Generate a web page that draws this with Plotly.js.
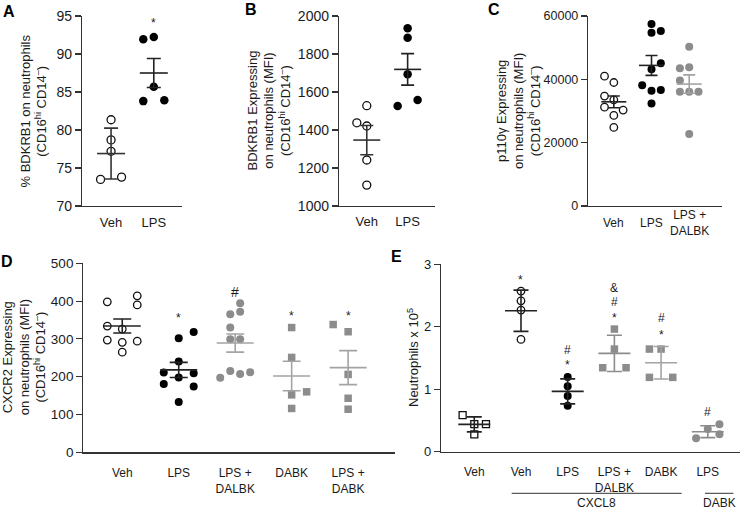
<!DOCTYPE html>
<html><head><meta charset="utf-8">
<script src="https://cdn.plot.ly/plotly-3.0.1.min.js"></script>
<style>html,body{margin:0;padding:0;background:#fff}</style>
</head><body><div id="chart" style="width:741px;height:510px"></div>
<script>
// ---------- DATA ----------
// Panel A: % BDKRB1 on neutrophils
const A_categories = ['Veh', 'LPS'];
const A_veh = [81.35, 78.7, 77.2, 73.5, 73.8];
const A_lps = [91.95, 92.25, 85.7, 83.8, 83.9];
const A_vehJitter = [0, 0, 0, -1, 1];
const A_lpsJitter = [-1, 0, 0, -1, 1];
const A_mean = [76.9, 87.5];
const A_err = [3.35, 1.9];
const A_yTicks = [70, 75, 80, 85, 90, 95];

// Panel B: BDKRB1 MFI
const B_categories = ['Veh', 'LPS'];
const B_veh = [1528, 1438, 1421, 1242, 1110];
const B_lps = [1935, 1886, 1693, 1526, 1558];
const B_vehJitter = [0, -1, 0, 0, 0];
const B_lpsJitter = [0, 0, 0, -1, 1];
const B_mean = [1347, 1719];
const B_err = [77, 83];
const B_yTicks = [1000, 1200, 1400, 1600, 1800, 2000];

// Panel C: p110gamma MFI
const C_categories = ['Veh', 'LPS', 'LPS +<br>DALBK'];
const C_veh = [41000, 39000, 34700, 33500, 31200, 30300, 28600, 24800];
const C_lps = [57500, 54700, 55300, 45100, 43200, 38100, 36400, 36600, 32400];
const C_dalbk = [50300, 43500, 43800, 39600, 36100, 36100, 36100, 22700];
const C_vehJitter = [-1, 0, -1, 0, -1, 1, 0, 0];
const C_lpsJitter = [0, 0, 1, 1, 0, -1, 0, 1, 0];
const C_dalbkJitter = [0, -1, 0, -1, -1, 0, 1, 0];
const C_mean = [32900, 44400, 38500];
const C_err = [1850, 3150, 2900];
const C_yTicks = [0, 20000, 40000, 60000];

// Panel D: CXCR2 MFI
const D_categories = ['Veh', 'LPS', 'LPS +<br>DALBK', 'DABK', 'LPS +<br>DABK'];
const D_veh = [398, 414, 390, 334, 326, 297, 291, 294, 265];
const D_lps = [302, 318, 240, 211, 209, 198, 181, 174, 133];
const D_lpsDalbk = [394, 365, 372, 330, 299, 299, 197, 215, 207, 212];
const D_dabk = [330, 251, 160, 152, 116];
const D_lpsDabk = [338, 319, 206, 143, 114];
const D_vehJitter = [-1, 1, 1, -1, 0, -1, 0, 1, 0];
const D_lpsJitter = [0, 1, 0, -1, 1, 0, -1, 1, 0];
const D_lpsDalbkJitter = [0.33, -0.33, 0.33, -0.33, -0.33, 0.33, -1, -0.33, 0.33, 1];
const D_dabkJitter = [0, 0, 1, 0, 0];
const D_lpsDabkJitter = [-1, 0, 0, 0, 0];
const D_mean = [334, 218, 289, 202, 224];
const D_err = [18.5, 20, 24, 39, 45];
const D_yTicks = [0, 100, 200, 300, 400, 500];
const D_sigText = ['', '*', '#', '*', '*'];
const D_sigY = [0, 360.6, 424.9, 367.7, 367.7];

// Panel E: Neutrophils x 10^5
const E_categories = ['Veh', 'Veh', 'LPS', 'LPS +<br>DALBK', 'DABK', 'LPS'];
const E_veh = [0.587, 0.443, 0.443, 0.278];
const E_cxVeh = [2.571, 2.416, 2.267, 1.798];
const E_cxLps = [1.195, 1.046, 0.891, 0.736];
const E_cxLpsDalbk = [1.963, 1.643, 1.344, 1.344];
const E_cxDabk = [1.643, 1.643, 1.19, 1.19];
const E_dabkLps = [0.214, 0.363, 0.438, 0.278];
const E_vehJitter = [-1, 0, 1, 0];
const E_cxVehJitter = [0, 0, 0, 0];
const E_cxLpsJitter = [0, 0, 0, 0];
const E_cxLpsDalbkJitter = [0, 0, -1, 1];
const E_cxDabkJitter = [-1, 0, -1, 1];
const E_dabkLpsJitter = [-1, 0, 1, 1];
const E_mean = [0.438, 2.256, 0.966, 1.574, 1.424, 0.32];
const E_err = [0.12, 0.33, 0.2, 0.29, 0.26, 0.095];
const E_yTicks = [0, 1, 2, 3];
// significance marks: category index, text, y
const E_sigCat = [1, 2, 2, 3, 3, 3, 4, 4, 5];
const E_sigText = ['*', '#', '*', '&', '#', '*', '#', '*', '#'];
const E_sigY = [2.784, 1.627, 1.43, 2.614, 2.40, 2.187, 2.134, 1.91, 0.64];
const E_groupLabels = ['CXCL8', 'DABK'];
const E_groupStart = [0.80, 4.94];
const E_groupEnd = [4.44, 5.55];

// ---------- STYLE ----------
const FONT = '"Liberation Sans", Arial, Helvetica, sans-serif';
const TXT = '#1a1a1a';
const AX = '#333333';
const GRAY = '#8c8c8c';
const LGRAY = '#a3a3a3';
const W = 741, H = 510;
const px = p => p / W;
const py = p => 1 - p / H;

const traces = [];
function points(n, cat, vals, jit, spread, marker) {
  traces.push({
    type: 'scatter', mode: 'markers', xaxis: 'x' + n, yaxis: 'y' + n,
    x: vals.map((v, i) => cat + jit[i] * spread), y: vals,
    marker: marker, hoverinfo: 'skip', showlegend: false, cliponaxis: false
  });
}
function meanBar(n, cat, mean, err, color, len, cap) {
  traces.push({
    type: 'scatter', mode: 'markers', xaxis: 'x' + n, yaxis: 'y' + n,
    x: [cat], y: [mean],
    marker: {symbol: 'line-ew', size: len / 1.4, color: color, line: {color: color, width: 1.6}},
    error_y: {type: 'data', array: [err], visible: true, color: color, thickness: 1.6, width: cap / 2},
    hoverinfo: 'skip', showlegend: false, cliponaxis: false
  });
}
const openC = s => ({symbol: 'circle-open', size: s, color: '#111', line: {width: 1.3, color: '#111'}});
const fillC = (s, c) => ({symbol: 'circle', size: s, color: c, line: {width: 0}});
const openS = s => ({symbol: 'square-open', size: s, color: '#111', line: {width: 1.3, color: '#111'}});
const fillS = (s, c) => ({symbol: 'square', size: s, color: c, line: {width: 0}});

// A
points('', 0, A_veh, A_vehJitter, 0.246, openC(8));
points('', 1, A_lps, A_lpsJitter, 0.246, fillC(8.5, '#000'));
meanBar('', 0, A_mean[0], A_err[0], '#333', 28, 14);
meanBar('', 1, A_mean[1], A_err[1], '#222', 28, 14);
// B
points('2', 0, B_veh, B_vehJitter, 0.244, openC(8));
points('2', 1, B_lps, B_lpsJitter, 0.244, fillC(8.5, '#000'));
meanBar('2', 0, B_mean[0], B_err[0], '#333', 27, 13);
meanBar('2', 1, B_mean[1], B_err[1], '#222', 27, 13);
// C
points('3', 0, C_veh, C_vehJitter, 0.247, openC(7.5));
points('3', 1, C_lps, C_lpsJitter, 0.247, fillC(8, '#000'));
points('3', 2, C_dalbk, C_dalbkJitter, 0.247, fillC(8, GRAY));
meanBar('3', 0, C_mean[0], C_err[0], '#222', 25, 12);
meanBar('3', 1, C_mean[1], C_err[1], '#222', 25, 12);
meanBar('3', 2, C_mean[2], C_err[2], LGRAY, 25, 12);
// D
points('4', 0, D_veh, D_vehJitter, 0.265, openC(7.5));
points('4', 1, D_lps, D_lpsJitter, 0.265, fillC(8, '#000'));
points('4', 2, D_lpsDalbk, D_lpsDalbkJitter, 0.265, fillC(8, GRAY));
points('4', 3, D_dabk, D_dabkJitter, 0.265, fillS(7.5, GRAY));
points('4', 4, D_lpsDabk, D_lpsDabkJitter, 0.265, fillS(7.5, GRAY));
meanBar('4', 0, D_mean[0], D_err[0], '#222', 37, 18);
meanBar('4', 1, D_mean[1], D_err[1], '#222', 37, 18);
meanBar('4', 2, D_mean[2], D_err[2], LGRAY, 37, 18);
meanBar('4', 3, D_mean[3], D_err[3], LGRAY, 37, 18);
meanBar('4', 4, D_mean[4], D_err[4], LGRAY, 37, 18);
// E
points('5', 0, E_veh, E_vehJitter, 0.25, openS(7));
points('5', 1, E_cxVeh, E_cxVehJitter, 0.25, openC(7.5));
points('5', 2, E_cxLps, E_cxLpsJitter, 0.25, fillC(8, '#000'));
points('5', 3, E_cxLpsDalbk, E_cxLpsDalbkJitter, 0.25, fillS(7.5, GRAY));
points('5', 4, E_cxDabk, E_cxDabkJitter, 0.25, fillS(7.5, GRAY));
points('5', 5, E_dabkLps, E_dabkLpsJitter, 0.25, fillC(8, GRAY));
meanBar('5', 0, E_mean[0], E_err[0], '#222', 32, 15);
meanBar('5', 1, E_mean[1], E_err[1], '#222', 32, 15);
meanBar('5', 2, E_mean[2], E_err[2], '#222', 32, 15);
meanBar('5', 3, E_mean[3], E_err[3], GRAY, 32, 15);
meanBar('5', 4, E_mean[4], E_err[4], LGRAY, 32, 15);
meanBar('5', 5, E_mean[5], E_err[5], GRAY, 32, 15);

function xAx(anchor, dom, range, vals, text, fsize, standoff) {
  return {
    anchor: anchor, domain: dom, range: range, showline: true, linecolor: AX, linewidth: 1.2,
    ticks: '', tickvals: vals, ticktext: text, showticklabels: !!text,
    tickfont: {family: FONT, size: fsize, color: TXT}, ticklabelstandoff: standoff,
    showgrid: false, zeroline: false, fixedrange: true
  };
}
function yAx(anchor, dom, range, vals, fsize) {
  return {
    anchor: anchor, domain: dom, range: range, showline: true, linecolor: AX, linewidth: 1.2,
    ticks: 'outside', ticklen: 6, tickwidth: 1.2, tickcolor: AX, tickvals: vals, tickformat: 'd',
    tickfont: {family: FONT, size: fsize, color: TXT},
    showgrid: false, zeroline: false, fixedrange: true
  };
}

const ann = [];
function label(t, x, y) {
  ann.push({text: '<b>' + t + '</b>', xref: 'paper', yref: 'paper', x: px(x), y: py(y),
    xanchor: 'center', yanchor: 'middle', showarrow: false, font: {family: FONT, size: 16, color: '#000'}});
}
function ytitle(t, x, yref, fsize) {
  ann.push({text: t, xref: 'paper', yref: yref, x: px(x), y: 0.5, textangle: -90,
    xanchor: 'center', yanchor: 'middle', showarrow: false, font: {family: FONT, size: fsize, color: TXT}});
}
function sig(n, x, y, t, fsize) {
  const star = t === '*';
  ann.push({text: t, xref: 'x' + n, yref: 'y' + n, x: x, y: y, showarrow: false,
    xanchor: 'center', yanchor: 'middle', yshift: star ? -2.5 : 0,
    font: {family: FONT, size: star ? 12 : fsize, color: TXT}});
}
label('A', 9, 11); label('B', 251, 9); label('C', 494, 9); label('D', 7, 261); label('E', 397, 256);
const sub = '(CD16<sup>hi</sup> CD14<sup>–</sup>)';
ytitle('% BDKRB1 on neutrophils<br>' + sub, 33.5, 'y domain', 13);
ytitle('BDKRB1 Expressing<br>on neutrophils (MFI)<br>' + sub, 268.5, 'y2 domain', 13);
ytitle('p110γ Expressing<br>on neutrophils (MFI)<br>' + sub, 518, 'y3 domain', 13);
ytitle('CXCR2 Expressing<br>on neutrophils (MFI)<br>' + sub, 24.5, 'y4 domain', 13);
ytitle('Neutrophils x 10<sup>5</sup>', 413, 'y5 domain', 13);

sig('', 1, 94.35, '*');
sig('2', 1, 2005, '*');
sig('3', 1, 61050, '*');
D_sigText.forEach((t, i) => { if (t) sig('4', i, D_sigY[i], t, 14); });
E_sigText.forEach((t, i) => sig('5', E_sigCat[i], E_sigY[i], t, 12));

C_categories.forEach((t, i) => ann.push({text: t, xref: 'x3', yref: 'paper', x: i, y: py(223.3),
  xanchor: 'center', yanchor: 'middle', showarrow: false, font: {family: FONT, size: 12, color: TXT}}));

const shapes = [];
E_groupLabels.forEach((t, i) => {
  shapes.push({type: 'line', xref: 'x5', yref: 'paper', x0: E_groupStart[i], x1: E_groupEnd[i],
    y0: py(493.3), y1: py(493.3), line: {color: AX, width: 1}});
  ann.push({text: t, xref: 'x5', yref: 'paper', x: (E_groupStart[i] + E_groupEnd[i]) / 2, y: py(503),
    xanchor: 'center', yanchor: 'middle', showarrow: false, font: {family: FONT, size: 12, color: TXT}});
});

const layout = {
  width: W, height: H, margin: {l: 0, r: 0, t: 0, b: 0},
  paper_bgcolor: '#fff', plot_bgcolor: '#fff', showlegend: false,
  font: {family: FONT, color: TXT},
  xaxis: xAx('y', [px(82), px(182)], [-0.68, 1.66], [0, 1], A_categories, 13, 4),
  yaxis: yAx('x', [py(206), py(16)], [70, 95], A_yTicks, 14),
  xaxis2: xAx('y2', [px(339), px(435)], [-0.68, 1.67], [0, 1], B_categories, 13, 3),
  yaxis2: yAx('x2', [py(206), py(16)], [1000, 2000], B_yTicks, 14),
  xaxis3: xAx('y3', [px(588), px(722)], [-0.685, 2.87], [0, 1, 2], null, 12, 3),
  yaxis3: yAx('x3', [py(206), py(16)], [0, 60000], C_yTicks, 12.5),
  xaxis4: xAx('y4', [px(83.3), px(395)], [-0.69, 4.83], [0, 1, 2, 3, 4], D_categories, 12, 9),
  yaxis4: yAx('x4', [py(452.3), py(263.3)], [0, 500], D_yTicks, 13.5),
  xaxis5: xAx('y5', [px(441), px(740)], [-0.713, 5.69], [0, 1, 2, 3, 4, 5], E_categories, 12, 9),
  yaxis5: yAx('x5', [py(451.7), py(264.3)], [0, 3], E_yTicks, 13),
  annotations: ann, shapes: shapes
};
Plotly.newPlot('chart', traces, layout, {staticPlot: true, displayModeBar: false});
</script></body></html>
